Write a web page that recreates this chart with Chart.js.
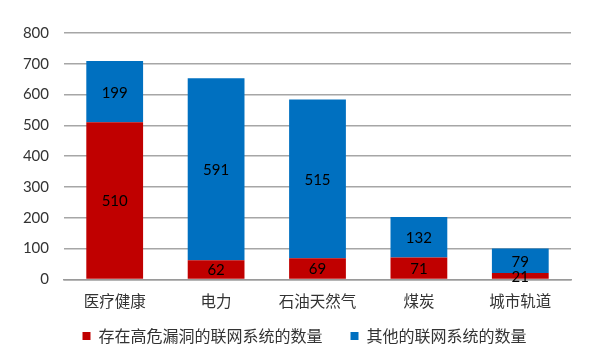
<!DOCTYPE html>
<html>
<head>
<meta charset="utf-8">
<script src="https://cdn.jsdelivr.net/npm/chart.js@4"></script>
<style>
  html, body { margin: 0; padding: 0; background: #fff; }
  #wrap { width: 595px; height: 354px; }
</style>
</head>
<body>
<div id="wrap"><canvas id="c" width="595" height="354"></canvas></div>
<script>
// 数据
const categories = ['医疗健康', '电力', '石油天然气', '煤炭', '城市轨道'];
const highRisk = [510, 62, 69, 71, 21];      // 存在高危漏洞的联网系统的数量
const others = [199, 591, 515, 132, 79];     // 其他的联网系统的数量
const seriesNames = ['存在高危漏洞的联网系统的数量', '其他的联网系统的数量'];
const yTicks = [0, 100, 200, 300, 400, 500, 600, 700, 800];

const numFont = 'Lato, "Liberation Sans", sans-serif';
const cjkFont = '"Noto Sans CJK SC", sans-serif';

// 柱内数值标签
const valueLabels = {
    id: 'valueLabels',
    afterDatasetsDraw(chart) {
        const ctx = chart.ctx;
        ctx.save();
        ctx.font = '15px ' + numFont;
        ctx.fillStyle = '#000';
        ctx.textAlign = 'center';
        ctx.textBaseline = 'middle';
        chart.data.datasets.forEach((ds, i) => {
            chart.getDatasetMeta(i).data.forEach((bar, j) => {
                const y = (bar.y + bar.base) / 2;
                ctx.fillText(String(ds.data[j]), bar.x, y + 1);
            });
        });
        ctx.restore();
    }
};

// 图例位置微调
const legendShift = {
    id: 'legendShift',
    afterLayout(chart) {
        const lg = chart.legend;
        if (!lg) return;
        lg.left += 19; lg.right += 19;
        lg.top -= 22; lg.bottom -= 22;
    }
};

new Chart(document.getElementById('c'), {
    type: 'bar',
    data: {
        labels: categories,
        datasets: [
            { label: seriesNames[0], data: highRisk, backgroundColor: '#C00000' },
            { label: seriesNames[1], data: others, backgroundColor: '#0070C0' }
        ]
    },
    options: {
        responsive: false,
        animation: false,
        layout: { padding: { left: 0, right: 24, top: 33, bottom: -22 } },
        datasets: { bar: { categoryPercentage: 1, barPercentage: 0.56 } },
        scales: {
            x: {
                stacked: true,
                grid: { display: false, drawTicks: false },
                border: { display: true, color: '#9a9a9a', width: 1.5 },
                ticks: { padding: 12, color: '#333', font: { family: cjkFont, size: 15.5 } }
            },
            y: {
                stacked: true,
                min: 0,
                max: 800,
                afterFit(scale) { scale.width = 64; },
                afterBuildTicks(scale) { scale.ticks = yTicks.map(v => ({ value: v })); },
                grid: { color: '#a6a6a6', lineWidth: 1.5, drawTicks: false },
                border: { display: false },
                ticks: { padding: 15, color: '#333', font: { family: numFont, size: 15 } }
            }
        },
        plugins: {
            legend: {
                position: 'bottom',
                labels: {
                    boxWidth: 8,
                    boxHeight: 8,
                    padding: 28,
                    color: '#333',
                    font: { family: cjkFont, size: 16 }
                }
            },
            tooltip: { enabled: false }
        }
    },
    plugins: [valueLabels, legendShift]
});
</script>
</body>
</html>
